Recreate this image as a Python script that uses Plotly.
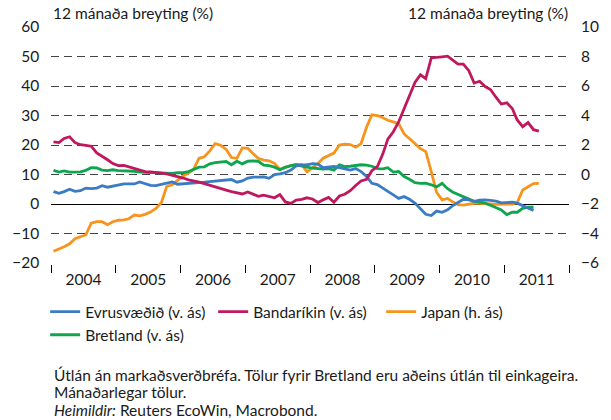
import pandas as pd
import plotly.graph_objects as go

# Monthly observations, January 2004 onwards (plotted mid-month)
months = pd.date_range("2004-01-01", periods=91, freq="MS") + pd.Timedelta(days=14)

# Euro area, 12-month change (%), left axis
evrusvaedid = [4.2, 3.6, 4.2, 5.0, 4.3, 4.5, 5.4, 5.2, 5.4, 6.2,
               5.7, 6.0, 6.3, 6.8, 6.8, 6.8, 7.5, 6.8, 6.3, 6.2,
               6.7, 7.2, 7.5, 6.7, 6.8, 7.0, 7.1, 7.3, 7.4, 7.6,
               7.8, 8.1, 8.2, 8.3, 7.4, 7.8, 8.8, 9.1, 9.1, 9.2,
               8.7, 10.0, 10.2, 10.6, 11.5, 12.9, 13.2, 13.3, 13.7, 13.5,
               12.3, 12.5, 12.7, 12.3, 11.8, 11.5, 12.0, 11.0, 9.3, 7.0,
               6.6, 5.5, 4.3, 3.1, 1.9, 2.5, 1.6, 0.3, -1.5, -3.5,
               -3.9, -2.4, -2.8, -2.0, -0.6, 0.4, 1.6, 1.4, 0.9, 1.3,
               1.4, 1.2, 1.0, 0.4, 0.4, 0.6, 0.3, -0.5, -1.3, -2.2]

# United States, left axis
bandarikin = [21.1, 20.8, 22.2, 22.8, 20.8, 20.1, 19.9, 19.6, 17.3, 16.3,
              15.0, 13.7, 13.0, 13.1, 12.6, 12.1, 11.6, 11.0, 10.9, 10.8,
              10.5, 10.2, 9.8, 9.3, 8.8, 8.2, 7.9, 7.4, 6.9, 6.3,
              5.8, 5.3, 4.7, 4.2, 3.8, 3.4, 4.1, 3.3, 2.6, 3.0,
              2.5, 2.1, 3.2, 0.7, 0.2, 1.3, 1.6, 2.1, 1.7, 0.5,
              1.4, 2.2, 0.6, 2.7, 3.3, 4.5, 6.3, 7.8, 8.4, 11.3,
              12.7, 17.0, 22.0, 24.5, 27.8, 32.5, 36.5, 41.2, 43.8, 42.5,
              49.5, 49.8, 49.9, 50.1, 48.9, 47.4, 47.4, 45.2, 41.0, 41.6,
              39.8, 38.8, 36.2, 33.9, 34.3, 32.4, 28.5, 26.2, 27.6, 25.2,
              24.7]

# Japan, right axis
japan = [-5.2, -5.05, -4.9, -4.7, -4.35, -4.22, -4.1, -3.3, -3.2, -3.2,
         -3.4, -3.2, -3.1, -3.08, -3.0, -2.75, -2.8, -2.7, -2.55, -2.3,
         -1.9, -0.8, -0.7, -0.4, -0.1, 0.1, 0.35, 1.1, 1.2, 1.6,
         2.1, 1.98, 1.7, 1.15, 1.1, 1.8, 1.78, 1.4, 1.1, 0.97,
         0.93, 0.76, 0.35, 0.5, 0.62, 0.69, 0.69, 0.19, 0.45, 0.75,
         1.1, 1.3, 1.45, 2.0, 2.05, 2.03, 1.85, 2.1, 3.2, 4.05,
         4.0, 3.85, 3.68, 3.57, 3.45, 2.75, 2.4, 2.1, 1.75, 1.55,
         0.2, -1.2, -1.72, -1.62, -1.85, -2.05, -2.07, -2.0, -1.95, -1.95,
         -1.95, -2.0, -2.02, -2.02, -2.0, -2.0, -1.9, -1.05, -0.83, -0.62,
         -0.6]

# United Kingdom, left axis
bretland = [11.4, 10.8, 11.2, 10.8, 10.8, 10.9, 11.4, 12.3, 12.2, 11.5,
            11.3, 11.6, 11.3, 11.2, 11.3, 11.1, 10.8, 10.7, 10.6, 10.5,
            10.4, 10.4, 10.4, 10.6, 10.6, 11.0, 11.8, 12.5, 12.6, 13.6,
            14.0, 14.3, 14.4, 13.3, 14.5, 13.6, 14.5, 14.6, 14.5, 13.2,
            13.0, 12.5, 11.6, 12.4, 13.0, 13.3, 12.8, 12.5, 12.2, 12.0,
            11.8, 12.0, 11.5, 13.3, 12.7, 12.8, 13.0, 13.3, 13.2, 12.8,
            12.0, 11.9, 12.3, 10.8, 11.0, 9.3, 8.4, 7.2, 7.0, 7.1,
            6.5, 5.8, 7.0, 5.2, 4.1, 3.3, 2.5, 1.9, 0.9, 0.6,
            0.3, -0.4, -1.1, -2.0, -3.6, -2.8, -2.8, -1.5, -1.1, -1.1]

left_ticks = [-20, -10, 0, 10, 20, 30, 40, 50, 60]
left_grid = [-10, 10, 20, 30, 40, 50]
right_ticks = [-6, -4, -2, 0, 2, 4, 6, 8, 10]

FONT = "Lato"
FS = 15.5
W, H = 611, 420
ML, MR, MT, MB = 44, 35, 27, 157
PW, PH = W - ML - MR, H - MT - MB


def px(x):
    return (x - ML) / PW


def py(y):
    return (H - MB - y) / PH


fig = go.Figure()
fig.add_trace(go.Scatter(x=months[:len(evrusvaedid)], y=evrusvaedid, mode="lines", zorder=2,
                         name="Evrusvæðið (v. ás)", line=dict(color="#3A7CC3", width=2.8)))
fig.add_trace(go.Scatter(x=months[:len(bandarikin)], y=bandarikin, mode="lines", zorder=3,
                         name="Bandaríkin (v. ás)", line=dict(color="#C0185E", width=2.8)))
fig.add_trace(go.Scatter(x=months[:len(japan)], y=japan, mode="lines", yaxis="y2", zorder=0,
                         name="Japan (h. ás)", line=dict(color="#F7941D", width=2.8)))
fig.add_trace(go.Scatter(x=months[:len(bretland)], y=bretland, mode="lines", zorder=1,
                         name="Bretland (v. ás)", line=dict(color="#0FA54E", width=2.8)))

fig.update_layout(
    width=W, height=H,
    margin=dict(l=ML, r=MR, t=MT, b=MB, pad=0),
    paper_bgcolor="white", plot_bgcolor="white",
    font=dict(family=FONT, size=FS, color="#1a1a1a"),
    showlegend=True,
    legend=dict(orientation="h", x=px(38), xanchor="left", y=py(295), yanchor="top",
                font=dict(size=FS), itemwidth=30, entrywidth=123, entrywidthmode="pixels",
                bgcolor="rgba(0,0,0,0)", tracegroupgap=0),
    xaxis=dict(type="date", range=["2004-01-01", "2012-01-01"],
               tick0="2004-01-01", dtick="M12", tickformat="%Y", ticklabelmode="period",
               ticks="outside", ticklen=8, tickwidth=1.2, tickcolor="black",
               ticklabelstandoff=-6,
               showline=True, linecolor="black", linewidth=1.5,
               showgrid=False, zeroline=False, tickfont=dict(size=FS)),
    yaxis=dict(range=[-20, 60], tickvals=left_ticks, ticks="", showline=True,
               linecolor="black", linewidth=1.5, showgrid=False,
               zeroline=True, zerolinecolor="black", zerolinewidth=1.2,
               ticklabelstandoff=7, tickfont=dict(size=FS),
               minor=dict(tickvals=left_grid, showgrid=True, gridcolor="#444444",
                          gridwidth=1, griddash="8px,5px", ticks="")),
    yaxis2=dict(range=[-6, 10], tickvals=right_ticks, overlaying="y", side="right",
                showline=True, linecolor="#8c8c8c", linewidth=2, showgrid=False,
                zeroline=False, ticks="", ticklabelstandoff=7, tickfont=dict(size=FS)),
)

annotations = [
    dict(text="12 mánaða breyting (%)", x=px(44), y=py(13), xanchor="left", yanchor="middle"),
    dict(text="12 mánaða breyting (%)", x=px(577), y=py(13), xanchor="right", yanchor="middle"),
    dict(text="Útlán án markaðsverðbréfa. Tölur fyrir Bretland eru aðeins útlán til einkageira.",
         x=px(45), y=py(375), xanchor="left", yanchor="middle"),
    dict(text="Mánaðarlegar tölur.", x=px(45), y=py(392), xanchor="left", yanchor="middle"),
    dict(text="<i>Heimildir:</i> Reuters EcoWin, Macrobond.", x=px(45), y=py(410),
         xanchor="left", yanchor="middle"),
]
for a in annotations:
    fig.add_annotation(xref="paper", yref="paper", showarrow=False,
                       font=dict(family=FONT, size=FS, color="#1a1a1a"), **a)

fig.write_html("out.html")
